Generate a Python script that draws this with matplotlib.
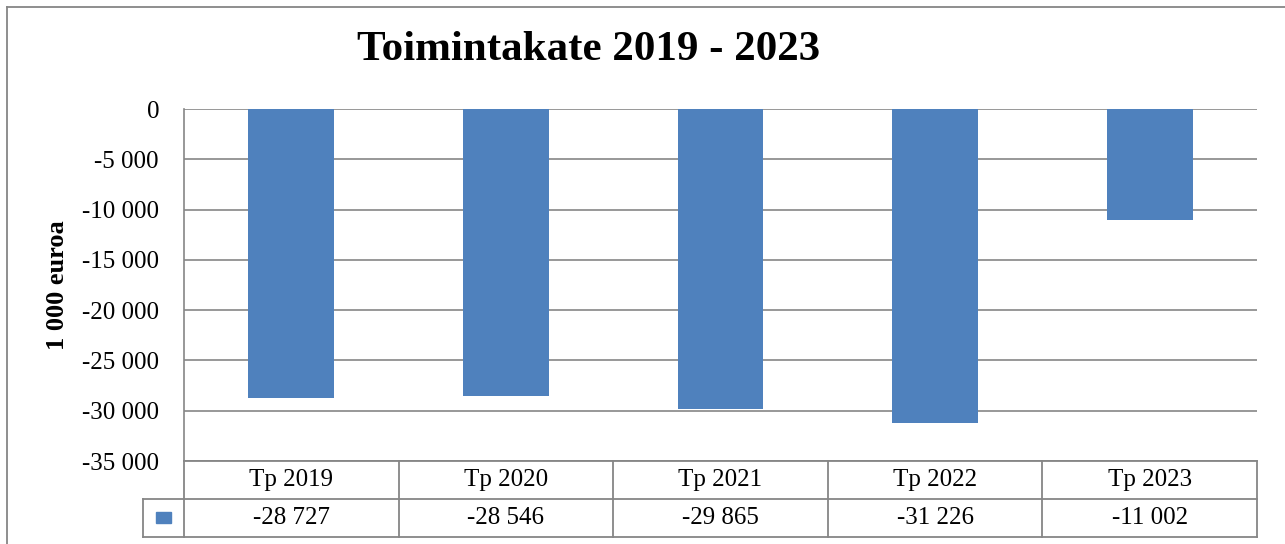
import matplotlib.pyplot as plt
from matplotlib.lines import Line2D
from matplotlib.patches import Rectangle

categories = ['Tp 2019', 'Tp 2020', 'Tp 2021', 'Tp 2022', 'Tp 2023']
values = [-28727, -28546, -29865, -31226, -11002]
yticks = [0, -5000, -10000, -15000, -20000, -25000, -30000, -35000]

W, H = 1285, 544
bar_color = '#4F81BD'
line_color = '#868686'

plt.rcParams['font.family'] = ['Liberation Serif', 'DejaVu Serif']


def fmt(v):
    s = f'{abs(v):,}'.replace(',', ' ')
    return ('-' if v < 0 else '') + s


fig = plt.figure(figsize=(W / 100, H / 100), dpi=100)

# outer chart frame (runs off the right and bottom edges)
fig.add_artist(Line2D([7 / W, 7 / W], [0, 1 - 7 / H], color=line_color, lw=1.3))
fig.add_artist(Line2D([7 / W, 1], [1 - 7 / H, 1 - 7 / H], color=line_color, lw=1.3))

left, right, top, bottom = 184, 1257, 109, 461
ax = fig.add_axes([left / W, 1 - bottom / H, (right - left) / W, (bottom - top) / H])
x = list(range(len(categories)))
ax.bar(x, values, width=0.4, color=bar_color, zorder=3)
ax.set_xlim(-0.5, len(categories) - 0.5)
ax.set_ylim(-35000, 0)
ax.set_yticks(yticks)
ax.set_yticklabels([fmt(v) for v in yticks], fontsize=18)
ax.tick_params(axis='y', length=0, pad=18)
ax.set_xticks([])
ax.yaxis.grid(True, color=line_color, lw=1.2, zorder=0)
for s in ['right', 'bottom', 'top']:
    ax.spines[s].set_visible(False)
ax.spines['left'].set_color(line_color)
ax.spines['left'].set_linewidth(1.2)
ax.set_ylabel('1 000 euroa', fontsize=19, fontweight='bold')
ax.yaxis.set_label_coords(-(left - 57) / (right - left), 0.5)
ax.yaxis.label.set_verticalalignment('center')

# data table below the plot
tb = 537
tax = fig.add_axes([left / W, 1 - tb / H, (right - left) / W, (tb - bottom) / H])
tax.set_xlim(-0.5, len(categories) - 0.5)
tax.set_ylim(0, 2)
tax.axis('off')
kw = dict(color=line_color, lw=1.3, clip_on=False)
key_left = -0.5 - (left - 143) / ((right - left) / len(categories))
tax.plot([-0.5, len(categories) - 0.5], [2, 2], **kw)
tax.plot([key_left, len(categories) - 0.5], [1, 1], **kw)
tax.plot([key_left, len(categories) - 0.5], [0, 0], **kw)
tax.plot([key_left, key_left], [0, 1], **kw)
for i in range(len(categories) + 1):
    tax.plot([i - 0.5, i - 0.5], [0, 2], **kw)
for i, (c, v) in enumerate(zip(categories, values)):
    tax.text(i, 1.5, c, ha='center', va='center', fontsize=18)
    tax.text(i, 0.5, fmt(v), ha='center', va='center', fontsize=18)
kx = (key_left - 0.5) / 2
tax.add_patch(Rectangle((kx - 0.033, 0.36), 0.066, 0.3, color=bar_color, clip_on=False))

fig.text(589 / W, 1 - 50 / H, 'Toimintakate 2019 - 2023', ha='center', va='center',
         fontsize=31, fontweight='bold')

fig.savefig('out.png', dpi=100)
